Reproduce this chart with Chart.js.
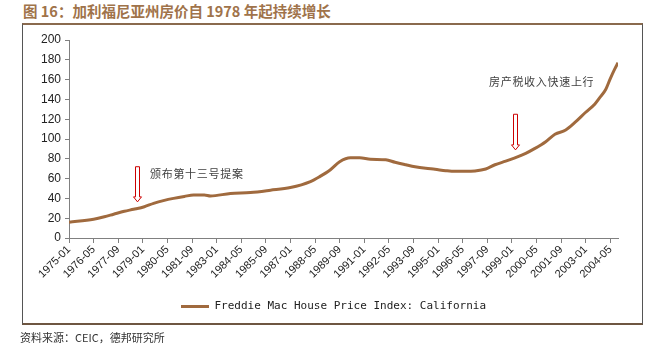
<!DOCTYPE html>
<html>
<head>
<meta charset="utf-8">
<script src="https://cdn.jsdelivr.net/npm/chart.js@4.4.1/dist/chart.umd.min.js"></script>
<style>
  body { margin: 0; width: 661px; height: 354px; position: relative; background: #fff; overflow: hidden; }
  #chart { position: absolute; left: 0; top: 0; }
  .title { position: absolute; left: 23px; top: 3px; font: bold 14.5px/16px "Noto Sans CJK SC", sans-serif; color: #a0734a; white-space: nowrap; }
  .frame { position: absolute; left: 22px; top: 23px; width: 619px; height: 298px; border-top: 2px solid #8a6a4e; border-bottom: 2px solid #6e5641; border-left: 1px solid #555; border-right: 1px solid #555; }
  .note { position: absolute; font: 11px/14px "Noto Sans CJK SC", sans-serif; letter-spacing: 0.7px; color: #404040; white-space: nowrap; }
  .source { position: absolute; left: 20px; top: 330px; font: 11px/14px "Noto Sans CJK SC", sans-serif; color: #333; white-space: nowrap; }
</style>
</head>
<body>
<div class="title">图 16：加利福尼亚州房价自 1978 年起持续增长</div>
<div class="frame"></div>
<canvas id="chart" width="661" height="354"></canvas>
<div class="note" style="left:150px; top:166px;">颁布第十三号提案</div>
<div class="note" style="left:489px; top:74px;">房产税收入快速上行</div>
<div class="source">资料来源：CEIC，德邦研究所</div>

<script>
/* data */
const dates = ['1975-01','1976-05','1976-12','1977-06','1978-01','1978-07','1979-02','1979-08','1980-03','1980-09',
  '1981-04','1981-10','1982-05','1982-09','1983-10','1984-11','1985-12','1987-01','1988-02','1988-08',
  '1989-03','1989-09','1990-04','1990-10','1991-05','1992-03','1992-09','1993-04','1993-10','1994-05',
  '1994-11','1995-06','1995-12','1996-07','1997-01','1997-08','1998-02','1998-09','1999-03','1999-10',
  '2000-04','2000-11','2001-05','2001-12','2002-06','2003-01','2003-07','2003-10','2004-02','2004-05',
  '2004-08','2004-10']
const values = [16, 19, 21.4, 24, 27, 29, 31.6, 35, 38, 40,
  42, 43.5, 43.5, 42.5, 45, 46, 48.3, 51, 57, 62,
  69, 77, 81, 81, 79.5, 79, 76.5, 74, 72, 70.4,
  69.4, 68, 67.3, 67.3, 67.7, 69.7, 74, 77.6, 81, 85.5,
  90.5, 97.3, 104.8, 109, 116.7, 127, 135.4, 141.5, 150, 161,
  171, 177]

const tickLabels = ['1975-01','1976-05','1977-09','1979-01','1980-05','1981-09','1983-01','1984-05','1985-09',
  '1987-01','1988-05','1989-09','1991-01','1992-05','1993-09','1995-01','1996-05','1997-09','1999-01',
  '2000-05','2001-09','2003-01','2004-05']

const seriesName = 'Freddie Mac House Price Index: California'
const lastMonth = '2004-10'

// arrows: date, start value, tip value
const arrowDates = ['1978-09', '1999-03']
const arrowFrom = [72, 125]
const arrowTo = [36.5, 89]

// months since 1975-01
function toIndex(d) {
  const p = d.split('-')
  return (parseInt(p[0]) - 1975) * 12 + parseInt(p[1]) - 1
}

const points = dates.map((d, i) => ({ x: toIndex(d), y: values[i] }))
const labelByIndex = {}
tickLabels.forEach(l => { labelByIndex[toIndex(l)] = l })

const lineColor = '#a06a3e'
const axisColor = '#808080'

const arrowPlugin = {
  id: 'arrows',
  afterDatasetsDraw(chart) {
    const ctx = chart.ctx
    const xs = chart.scales.x
    const ys = chart.scales.y
    arrowDates.forEach((d, i) => {
      const x = Math.round(xs.getPixelForValue(toIndex(d))) + 0.5
      const top = ys.getPixelForValue(arrowFrom[i])
      const tip = ys.getPixelForValue(arrowTo[i])
      const neck = tip - 5
      ctx.save()
      ctx.beginPath()
      ctx.moveTo(x - 2, top)
      ctx.lineTo(x + 2, top)
      ctx.lineTo(x + 2, neck)
      ctx.lineTo(x + 4, neck)
      ctx.lineTo(x, tip)
      ctx.lineTo(x - 4, neck)
      ctx.lineTo(x - 2, neck)
      ctx.closePath()
      ctx.fillStyle = '#fff'
      ctx.fill()
      ctx.strokeStyle = '#cc0000'
      ctx.lineWidth = 1
      ctx.stroke()
      ctx.restore()
    })
  }
}

// legend sits centred over the plot, not the whole frame
const legendShift = {
  id: 'legendShift',
  afterLayout(chart) {
    chart.legend.left += 26
  }
}

new Chart(document.getElementById('chart'), {
  type: 'line',
  data: {
    datasets: [{
      label: seriesName,
      data: points,
      borderColor: lineColor,
      backgroundColor: lineColor,
      borderWidth: 3,
      pointRadius: 0,
      fill: false,
      cubicInterpolationMode: 'monotone'
    }]
  },
  options: {
    responsive: false,
    animation: false,
    devicePixelRatio: 1,
    layout: { padding: { left: 23, right: 43, top: 40, bottom: 32 } },
    plugins: {
      legend: {
        position: 'bottom',
        labels: {
          usePointStyle: true,
          pointStyle: 'line',
          pointStyleWidth: 28,
          padding: 8,
          color: '#222',
          font: { family: 'DejaVu Sans Mono', size: 11 }
        }
      },
      tooltip: { enabled: false }
    },
    scales: {
      x: {
        type: 'linear',
        min: 0,
        max: toIndex(lastMonth),
        afterBuildTicks: scale => {
          scale.ticks = tickLabels.map(l => ({ value: toIndex(l) }))
        },
        afterFit: scale => { scale.height = 55 },
        grid: { drawOnChartArea: false, tickLength: 5, color: axisColor },
        border: { color: axisColor },
        ticks: {
          autoSkip: false,
          maxRotation: 45,
          minRotation: 45,
          padding: 0,
          color: '#222',
          font: { family: 'Liberation Sans', size: 11 },
          callback: v => labelByIndex[v]
        }
      },
      y: {
        min: 0,
        max: 200,
        afterFit: scale => { scale.width = 46 },
        grid: { drawOnChartArea: false, tickLength: 4, color: axisColor },
        border: { color: axisColor },
        ticks: {
          stepSize: 20,
          padding: 4,
          color: '#222',
          font: { family: 'Liberation Sans', size: 12 }
        }
      }
    }
  },
  plugins: [arrowPlugin, legendShift]
})
</script>
</body>
</html>
